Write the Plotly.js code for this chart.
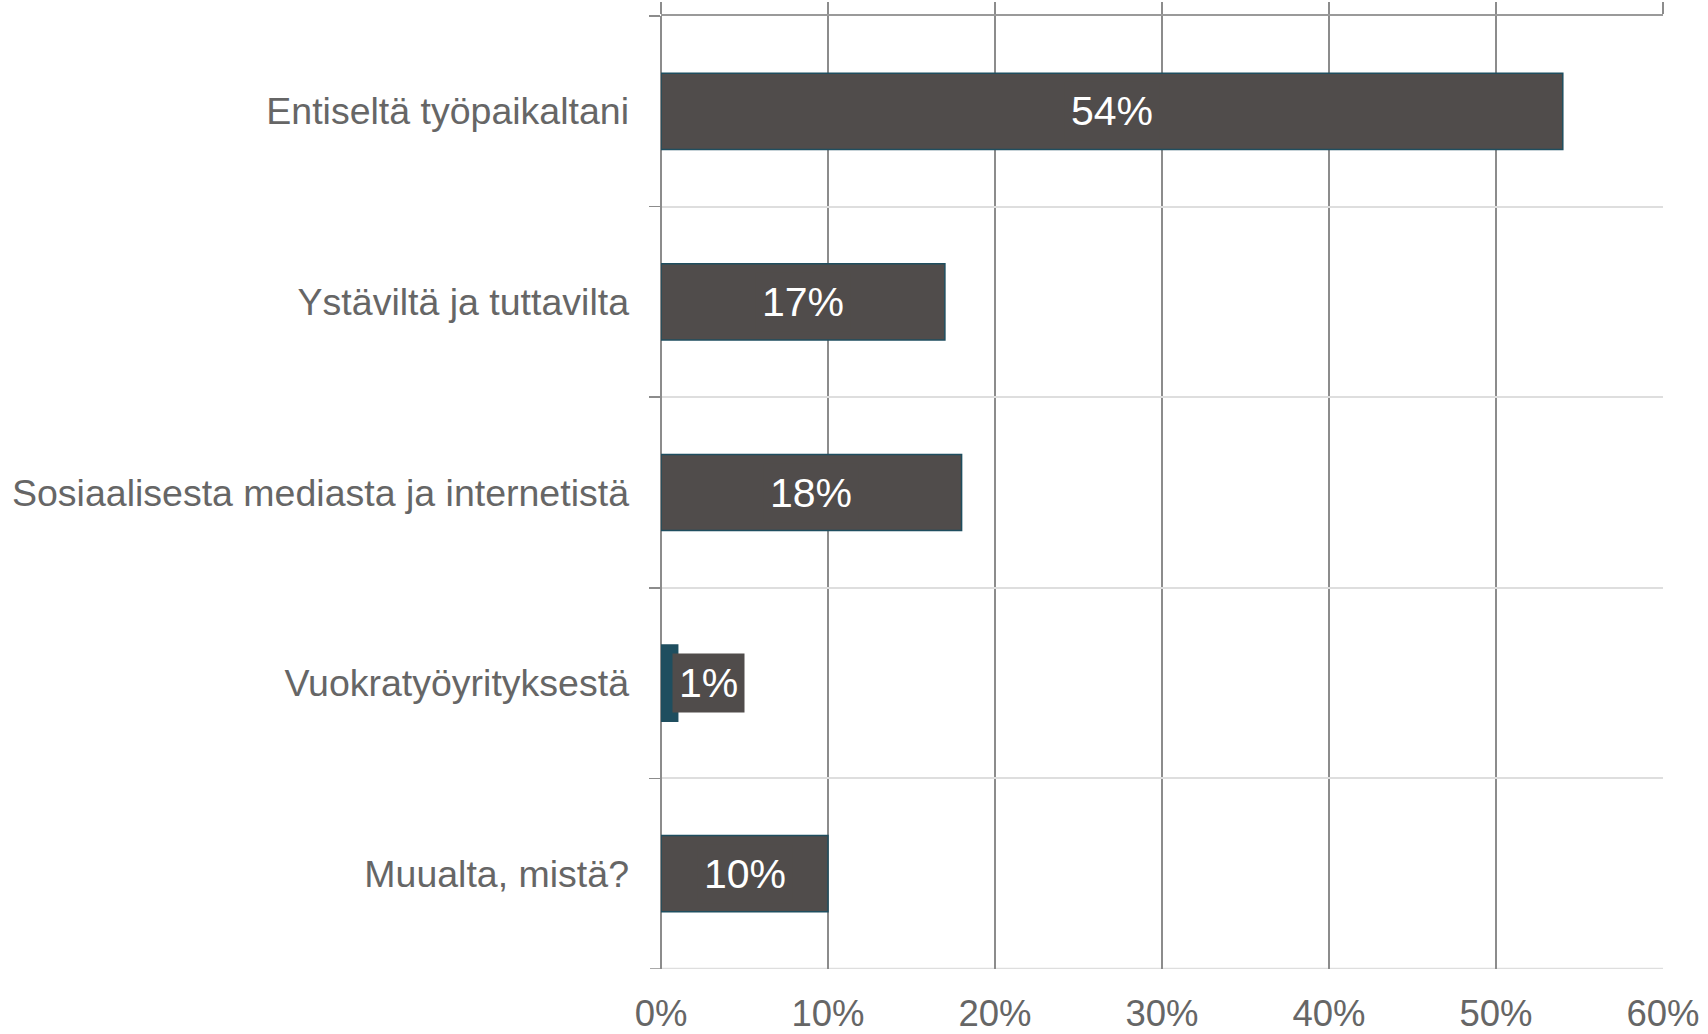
<!DOCTYPE html>
<html>
<head>
<meta charset="utf-8">
<script src="https://cdn.plot.ly/plotly-3.0.1.min.js"></script>
<style>html,body{margin:0;padding:0;background:#fff;}#chart{width:1708px;height:1034px;}</style>
</head>
<body>
<div id="chart"></div>
<script>
const categories = ["Entiseltä työpaikaltani", "Ystäviltä ja tuttavilta", "Sosiaalisesta mediasta ja internetistä", "Vuokratyöyrityksestä", "Muualta, mistä?"];
const values = [54, 17, 18, 1, 10];
const xTickValues = [0, 10, 20, 30, 40, 50, 60];
const xTickLabels = ["0%", "10%", "20%", "30%", "40%", "50%", "60%"];

const GRAY = "#504C4B";
const TEAL = "#1F4E5F";
const barColors = [GRAY, GRAY, GRAY, TEAL, GRAY];
const FONT = "Liberation Sans, Arial, sans-serif";

const trace = {
  type: "bar",
  orientation: "h",
  x: values,
  y: categories,
  width: 0.4,
  marker: {color: barColors, line: {color: TEAL, width: 1.5}},
  hoverinfo: "skip"
};
const dummy = {type: "scatter", x: [], y: [], xaxis: "x2", yaxis: "y", hoverinfo: "skip", showlegend: false};

const annotations = values.map((v, i) => {
  const small = v < 3;
  return {
    x: v / 2, y: categories[i], xref: "x", yref: "y",
    text: v + "%", showarrow: false,
    xanchor: small ? "left" : "center", xshift: small ? 3 : 0,
    font: {family: FONT, size: 41, color: "#ffffff"},
    bgcolor: GRAY, borderpad: 6
  };
});

const lastBoundary = categories.length - 0.5;
const shapes = [
  {type: "line", xref: "paper", yref: "y", x0: 0, x1: 1, y0: lastBoundary, y1: lastBoundary,
   line: {color: "#dedede", width: 2.5}, layer: "below"},
  {type: "line", xref: "paper", yref: "y", x0: -0.011, x1: 0, y0: lastBoundary, y1: lastBoundary,
   line: {color: "#8c8c8c", width: 1.5}, layer: "above"}
];

const layout = {
  width: 1708, height: 1034,
  margin: {l: 661, r: 45, t: 16, b: 65},
  paper_bgcolor: "#ffffff", plot_bgcolor: "#ffffff",
  showlegend: false,
  font: {family: FONT, color: "#666666"},
  xaxis: {
    range: [0, 60], tickvals: xTickValues, ticktext: xTickLabels,
    showgrid: true, gridcolor: "#8c8c8c", gridwidth: 1.5,
    zeroline: true, zerolinecolor: "#8c8c8c", zerolinewidth: 1.5,
    showline: false, ticks: "", ticklabelstandoff: 19,
    tickfont: {family: FONT, size: 36.5, color: "#666666"},
    fixedrange: true
  },
  xaxis2: {
    overlaying: "x", side: "top", anchor: "y",
    range: [0, 60], tickvals: xTickValues,
    showticklabels: false, ticks: "outside", ticklen: 12, tickcolor: "#8c8c8c", tickwidth: 1.5,
    showline: true, linecolor: "#9a9a9a", linewidth: 2,
    showgrid: false, zeroline: false, fixedrange: true
  },
  yaxis: {
    type: "category", categoryorder: "array", categoryarray: categories,
    range: [lastBoundary, -0.5],
    tickson: "boundaries", ticks: "outside", ticklen: 11, tickcolor: "#8c8c8c", tickwidth: 1.5,
    showgrid: true, gridcolor: "#dedede", gridwidth: 2,
    showline: false, zeroline: false, ticklabelstandoff: 31,
    tickfont: {family: FONT, size: 37.5, color: "#666666"},
    fixedrange: true
  },
  shapes: shapes,
  annotations: annotations
};

Plotly.newPlot("chart", [trace, dummy], layout, {displayModeBar: false, staticPlot: true});
</script>
</body>
</html>
